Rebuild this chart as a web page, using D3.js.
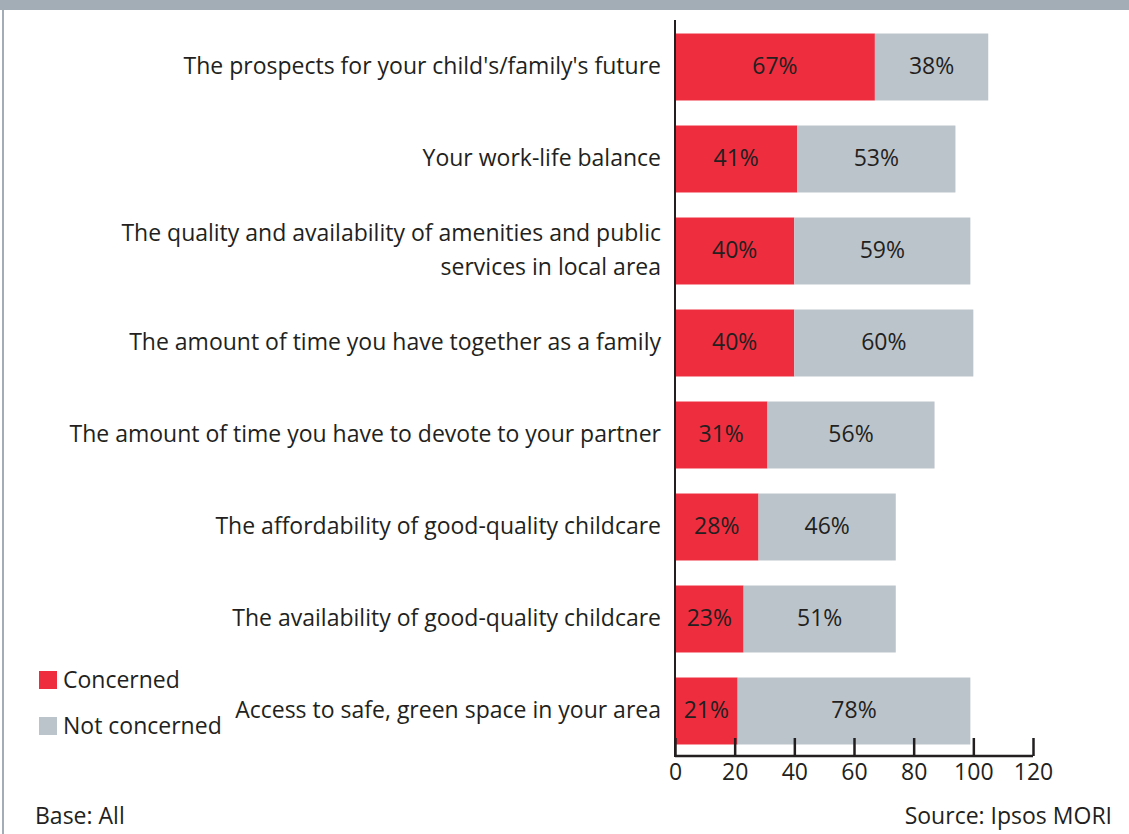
<!DOCTYPE html>
<html>
<head>
<meta charset="utf-8">
<script src="https://cdn.jsdelivr.net/npm/d3@7"></script>
<style>
  html, body { margin: 0; padding: 0; background: #fff; }
  svg { display: block; }
  text { font-family: "Open Sans", "Noto Sans", sans-serif; fill: #231f20; }
</style>
</head>
<body>
<svg id="chart" width="1129" height="834"></svg>
<script>
// Survey items (top to bottom); multi-line labels split with "|"
const categories = [
  "The prospects for your child's/family's future",
  "Your work-life balance",
  "The quality and availability of amenities and public|services in local area",
  "The amount of time you have together as a family",
  "The amount of time you have to devote to your partner",
  "The affordability of good-quality childcare",
  "The availability of good-quality childcare",
  "Access to safe, green space in your area"
];
const concerned    = [67, 41, 40, 40, 31, 28, 23, 21];
const notConcerned = [38, 53, 59, 60, 56, 46, 51, 78];
const seriesNames  = ["Concerned", "Not concerned"];
const tickValues   = [0, 20, 40, 60, 80, 100, 120];
const colors = { "Concerned": "#ee2e3f", "Not concerned": "#bcc4cb" };

const svg = d3.select("#chart");
const W = 1129, H = 834;
const fs = 23;

// frame: grey band along the top and thin rule down the left
svg.append("rect").attr("x", 0).attr("y", 0).attr("width", W).attr("height", 10).attr("fill", "#a3adb6");
svg.append("rect").attr("x", 2).attr("y", 10).attr("width", 2).attr("height", H - 10).attr("fill", "#a3adb6");

const x = d3.scaleLinear().domain([0, 120]).range([675, 1033]);
const y = d3.scaleBand().domain(d3.range(categories.length)).range([21, 757]).paddingInner(0.272).paddingOuter(0.136);

const rows = categories.map((c, i) => ({
  label: c, i,
  segs: [
    { key: "Concerned", x0: 0, x1: concerned[i], v: concerned[i] },
    { key: "Not concerned", x0: concerned[i], x1: concerned[i] + notConcerned[i], v: notConcerned[i] }
  ]
}));

const g = svg.append("g");
const row = g.selectAll("g.row").data(rows).join("g").attr("class", "row");

row.selectAll("rect").data(d => d.segs.map(s => ({ ...s, i: d.i }))).join("rect")
  .attr("x", d => x(d.x0))
  .attr("y", d => y(d.i))
  .attr("width", d => x(d.x1) - x(d.x0))
  .attr("height", y.bandwidth())
  .attr("fill", d => colors[d.key]);

row.selectAll("text.val").data(d => d.segs.map(s => ({ ...s, i: d.i }))).join("text")
  .attr("class", "val")
  .attr("x", d => (x(d.x0) + x(d.x1)) / 2)
  .attr("y", d => y(d.i) + y.bandwidth() / 2)
  .attr("dy", "0.3em")
  .attr("text-anchor", "middle")
  .style("font-size", fs + "px")
  .text(d => d.v + "%");

// category labels, right-aligned against the axis
row.each(function(d) {
  const lines = d.label.split("|");
  const cy = y(d.i) + y.bandwidth() / 2;
  const lh = 34;
  const t = d3.select(this).append("text")
    .attr("text-anchor", "end")
    .style("font-size", fs + "px");
  lines.forEach((ln, k) => {
    t.append("tspan")
      .attr("x", 661)
      .attr("y", cy + (k - (lines.length - 1) / 2) * lh)
      .attr("dy", "0.3em")
      .text(ln);
  });
});

// vertical axis line
svg.append("line").attr("x1", 675).attr("x2", 675).attr("y1", 20).attr("y2", 757)
  .attr("stroke", "#231f20").attr("stroke-width", 2);

// bottom axis with ticks pointing up
const xAxis = d3.axisBottom(x).tickValues(tickValues).tickSize(-18).tickPadding(8).tickFormat(d3.format("d"));
const ax = svg.append("g").attr("transform", "translate(0,756)").call(xAxis);
ax.select(".domain").attr("d", `M${x(0)},0H${x(120)}`).attr("stroke", "#231f20").attr("stroke-width", 2.5);
ax.selectAll(".tick line").attr("stroke", "#231f20").attr("stroke-width", 2.5);
ax.selectAll(".tick text").style("font-size", fs + "px").style("font-family", '"Open Sans", "Noto Sans", sans-serif').attr("fill", "#231f20");

// legend
const leg = svg.append("g");
seriesNames.forEach((s, k) => {
  const yy = 671 + k * 46;
  leg.append("rect").attr("x", 39).attr("y", yy).attr("width", 18).attr("height", 18).attr("fill", colors[s]);
  leg.append("text").attr("x", 63).attr("y", yy + 17).style("font-size", fs + "px").text(s);
});

// footer notes
svg.append("text").attr("x", 35).attr("y", 824).style("font-size", fs + "px").text("Base: All");
svg.append("text").attr("x", 1112).attr("y", 824).attr("text-anchor", "end").style("font-size", fs + "px").text("Source: Ipsos MORI");
</script>
</body>
</html>
